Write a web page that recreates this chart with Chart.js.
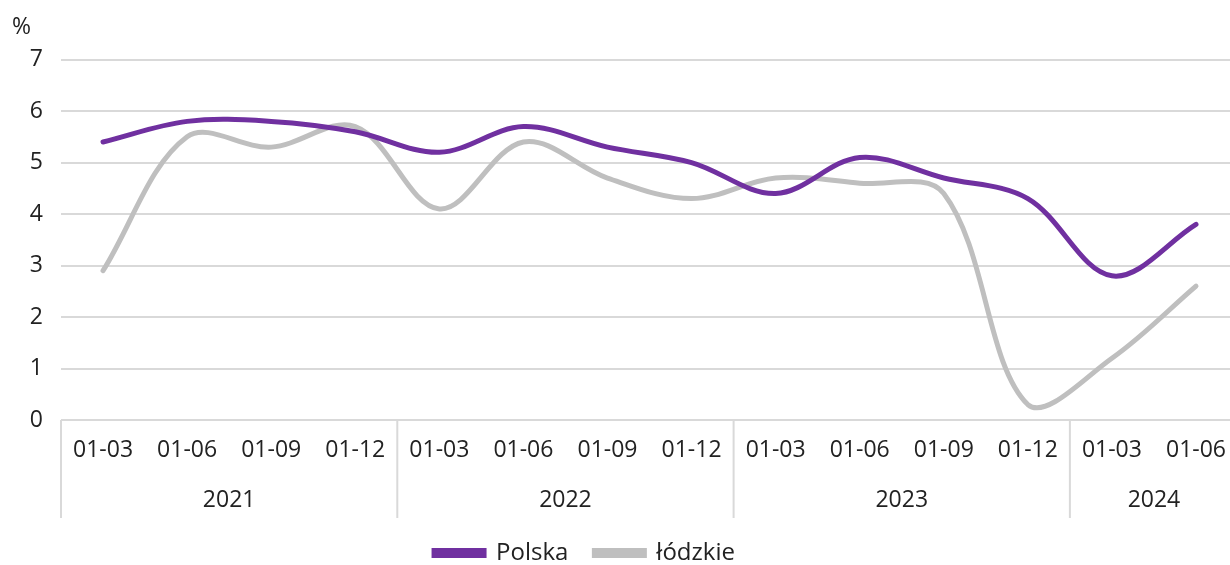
<!DOCTYPE html>
<html>
<head>
<meta charset="utf-8">
<script src="https://cdn.jsdelivr.net/npm/chart.js@4/dist/chart.umd.min.js"></script>
<style>
  html, body { margin: 0; padding: 0; background: #fff; overflow: hidden; }
</style>
</head>
<body>
<canvas id="myChart" width="1243" height="565"></canvas>
<script>
// data
const quarters = ['01-03', '01-06', '01-09', '01-12', '01-03', '01-06', '01-09', '01-12',
                  '01-03', '01-06', '01-09', '01-12', '01-03', '01-06'];
const years = ['2021', '2022', '2023', '2024'];
const yearSizes = [4, 4, 4, 2];
const polska = [5.4, 5.8, 5.8, 5.6, 5.2, 5.7, 5.3, 5.0, 4.4, 5.1, 4.7, 4.3, 2.8, 3.8];
const lodzkie = [2.9, 5.5, 5.3, 5.7, 4.1, 5.4, 4.7, 4.3, 4.7, 4.6, 4.4, 0.3, 1.2, 2.6];

const FONT = "'Open Sans', sans-serif";
const TEXT = '#222222';
const GRID = '#d9d9d9';

// year row + separators under the quarter labels
const yearAxis = {
    id: 'yearAxis',
    afterLayout(chart) {
        // move legend to where it sits in the original
        const lg = chart.legend;
        lg.left -= 43; lg.right -= 43;
        lg.top += 10; lg.bottom += 10;
    },
    afterDraw(chart) {
        const ctx = chart.ctx;
        const x = chart.scales.x;
        const bottom = chart.chartArea.bottom;
        const half = (x.getPixelForValue(1) - x.getPixelForValue(0)) / 2;
        ctx.save();
        ctx.strokeStyle = GRID;
        ctx.lineWidth = 2;
        ctx.fillStyle = TEXT;
        ctx.font = '23px ' + FONT;
        ctx.textAlign = 'center';
        ctx.textBaseline = 'middle';
        let start = 0;
        years.forEach((yr, i) => {
            const x0 = x.getPixelForValue(start) - half;
            const x1 = x.getPixelForValue(start + yearSizes[i] - 1) + half;
            ctx.beginPath();
            ctx.moveTo(x0, bottom);
            ctx.lineTo(x0, bottom + 98);
            ctx.stroke();
            ctx.fillText(yr, (x0 + x1) / 2, bottom + 80);
            start += yearSizes[i];
        });
        ctx.restore();
    }
};

const ctx = document.getElementById('myChart').getContext('2d');
const myChart = new Chart(ctx, {
    type: 'line',
    data: {
        labels: quarters,
        datasets: [{
            label: 'Polska',
            data: polska,
            borderColor: '#7030a0',
            backgroundColor: '#7030a0',
            borderWidth: 5,
            borderCapStyle: 'round',
            pointRadius: 0,
            tension: 0.35
        }, {
            label: 'łódzkie',
            data: lodzkie,
            borderColor: '#bfbfbf',
            backgroundColor: '#bfbfbf',
            borderWidth: 5,
            borderCapStyle: 'round',
            pointRadius: 0,
            tension: 0.35
        }]
    },
    options: {
        responsive: false,
        animation: false,
        layout: { padding: { left: 12, right: 0, top: 0, bottom: 0 } },
        plugins: {
            title: {
                display: true,
                text: '%',
                align: 'start',
                color: TEXT,
                font: { family: FONT, size: 23, weight: 'normal' },
                padding: { top: 14, bottom: 18 }
            },
            legend: {
                position: 'bottom',
                labels: {
                    color: TEXT,
                    font: { family: FONT, size: 24 },
                    boxWidth: 50,
                    boxHeight: 5,
                    padding: 26
                }
            },
            tooltip: { enabled: false }
        },
        scales: {
            x: {
                offset: true,
                grid: { display: false, drawTicks: false, offset: true },
                border: { display: false },
                ticks: {
                    color: TEXT,
                    font: { family: FONT, size: 23 },
                    padding: 17,
                    maxRotation: 0,
                    autoSkip: false
                },
                afterFit(scale) { scale.height = 85; }
            },
            y: {
                min: 0,
                max: 7,
                ticks: {
                    stepSize: 1,
                    color: TEXT,
                    font: { family: FONT, size: 23 },
                    padding: 18
                },
                grid: { color: GRID, lineWidth: 2, drawTicks: false },
                border: { display: false },
                afterFit(scale) { scale.width = 49; }
            }
        }
    },
    plugins: [yearAxis]
});
</script>
</body>
</html>
